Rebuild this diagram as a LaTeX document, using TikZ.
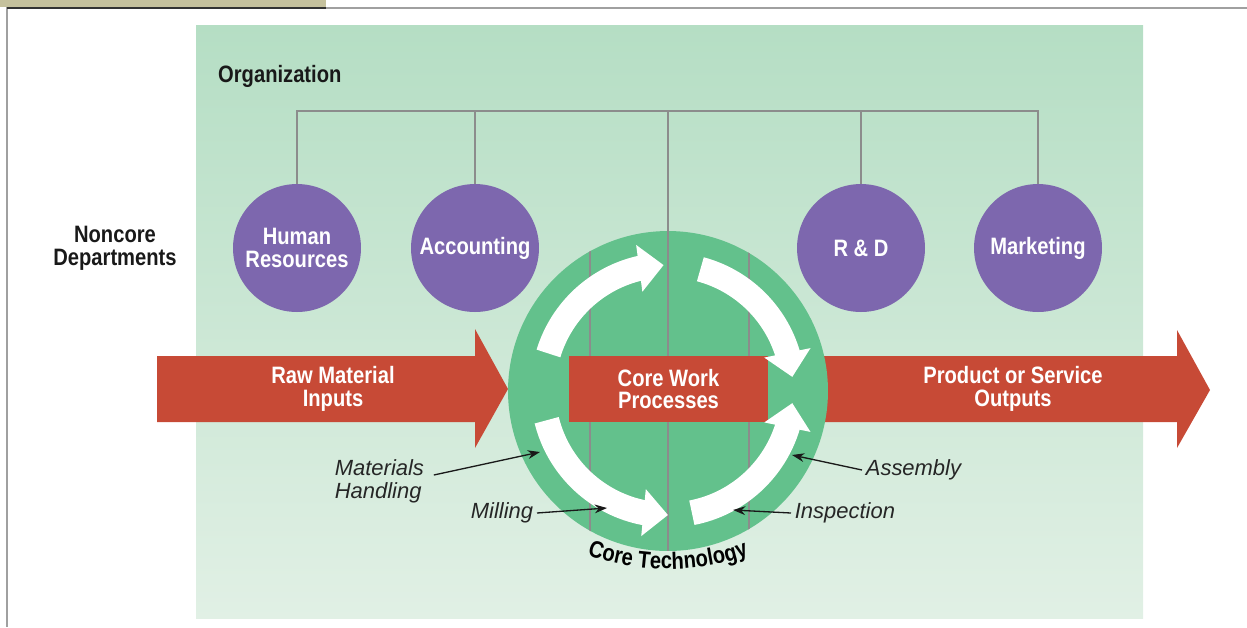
\documentclass[tikz,border=0pt]{standalone}
\usepackage{fontspec}
\setmainfont{Liberation Sans}
\newfontfamily\condsans{Liberation Sans}[FakeStretch=0.85]
\usepackage{xcolor}
\usetikzlibrary{arrows.meta, bending, positioning, decorations.text}
\definecolor{orgtop}{RGB}{181,222,196}
\definecolor{orgbottom}{RGB}{225,240,229}
\definecolor{coregreen}{RGB}{99,193,140}
\definecolor{deptpurple}{RGB}{125,103,174}
\definecolor{flowred}{RGB}{199,74,54}
\definecolor{treegray}{RGB}{140,140,140}
\definecolor{framegray}{RGB}{160,160,160}
\definecolor{tabtan}{RGB}{197,193,157}
\newcommand{\headfont}{\condsans\bfseries\fontsize{13.5}{13}\selectfont}
\newcommand{\notefont}{\itshape\fontsize{12.5}{13}\selectfont}

\begin{document}
\begin{tikzpicture}[x=0.02cm, y=0.02cm,
  head/.style={font=\headfont, text=black!90},
  dept/.style={circle, fill=deptpurple, minimum size=2.56cm, inner sep=0pt, font=\headfont, text=white, align=center},
  tree/.style={draw=treegray, line width=1.4pt},
  flow/.style={white, line width=14.2pt, -{Triangle[length=14pt, width=26pt]}},
  note/.style={font=\notefont, text=black!85, inner sep=2pt},
  ptr/.style={black!90, line width=0.75pt, -{Stealth[length=7pt, width=5pt]}}]

\useasboundingbox (0,0) rectangle (1247,-627);

% page frame and tab
\fill[tabtan] (0,0) rectangle (326,-7);
\draw[framegray, line width=0.9pt] (1247,-8) -- (7,-8) -- (7,-627);
\draw[black!80, line width=0.9pt] (7,-8) -- (326,-8);

% organization panel
\shade[top color=orgtop, bottom color=orgbottom] (196,-25) rectangle (1143,-618);
\node[head, anchor=west] (org) at (212,-76) {Organization};
\node[head, align=center] (noncore) at (115,-248) {Noncore\\Departments};

% noncore departments
\foreach \n/\x/\t in {hr/297/{Human\\Resources}, acc/475/Accounting, rd/861/{R \& D}, mkt/1038/Marketing}
  \node[dept] (\n) at (\x,-248) {\t};

% reporting lines
\coordinate (top) at (668,-111);
\draw[tree] (hr.north) -- (hr.north |- top) -- (mkt.north |- top) -- (mkt.north);
\foreach \n in {acc, rd}
  \draw[tree] (\n.north) -- (\n.north |- top);

% inputs and outputs
\fill[flowred] (157,-356) -- (475,-356) -- (475,-329) -- (508,-389) -- (475,-448) -- (475,-422) -- (157,-422) -- cycle;
\fill[flowred] (800,-356) -- (1177,-356) -- (1177,-330) -- (1210,-390) -- (1177,-448) -- (1177,-422) -- (800,-422) -- cycle;
\node[head, text=white, align=center] (inputs) at (333,-389) {Raw Material\\Inputs};
\node[head, text=white, align=center] (outputs) at (1013,-389) {Product or Service\\Outputs};

% core technology
\node[circle, fill=coregreen, minimum size=6.4cm, inner sep=0pt] (tech) at (668,-391) {};
\begin{scope}
  \clip (668,-391) circle[radius=160];
  \foreach \x in {590,749}
    \draw[tree] (\x,-200) -- (\x,-600);
\end{scope}
\draw[tree] (top) -- (tech.south);
\node[fill=flowred, minimum width=3.98cm, minimum height=1.32cm, font=\headfont, text=white, align=center] (core) at (668.5,-389) {Core Work\\Processes};

% work flow around the core
\coordinate (hub) at (668,-390);
\draw[flow] ([shift={(163:125)}]hub) arc[start angle=163, end angle=92, radius=125];
\draw[flow] ([shift={(75:125)}]hub) arc[start angle=75, end angle=6, radius=125];
\draw[flow] ([shift={(194:125)}]hub) arc[start angle=194, end angle=270, radius=125];
\draw[flow] ([shift={(281:125)}]hub) arc[start angle=281, end angle=354, radius=125];

\coordinate (arcc) at (668,-322);
\path[decorate, decoration={text along path, text align=center, text={|\headfont|Core Technology}}]
  ([shift={(235:247)}]arcc) arc[start angle=235, end angle=305, radius=247];

% step labels
\node[note, anchor=west, align=left] (handling) at (331,-481) {Materials\\Handling};
\node[note, anchor=east] (milling) at (537,-513) {Milling};
\node[note, anchor=west] (assembly) at (862,-470) {Assembly};
\node[note, anchor=west] (inspection) at (791,-513) {Inspection};
\coordinate (handTip) at (540,-452);
\coordinate (millTip) at (607,-508);
\coordinate (asmTip) at (792,-455);
\coordinate (inspTip) at (733,-510);
\draw[ptr] ([shift={(6,6)}]handling.east) -- (handTip);
\draw[ptr] (milling.east) -- (millTip);
\draw[ptr] (assembly.west) -- (asmTip);
\draw[ptr] (inspection.west) -- (inspTip);

\end{tikzpicture}
\end{document}
